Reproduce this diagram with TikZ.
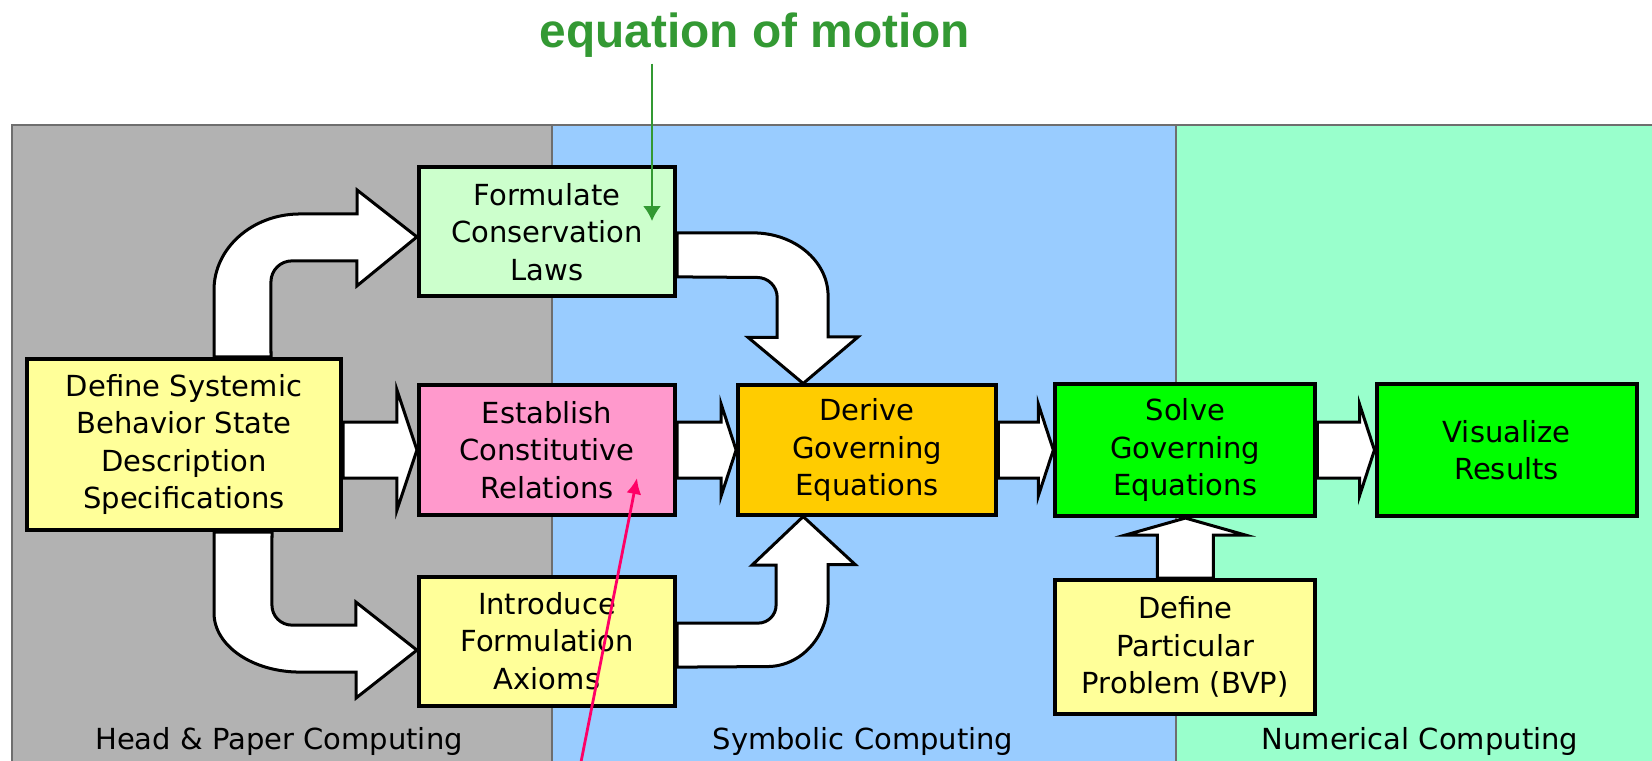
\documentclass[tikz,border=0pt]{standalone}
\usepackage{fontspec}
\setmainfont{DejaVu Sans}
\newfontfamily\eomfont{Liberation Sans}
\usepackage{tikz}
\usetikzlibrary{arrows.meta,positioning,calc,backgrounds}
\definecolor{fwlane}{RGB}{110,110,110}
\definecolor{fwhead}{RGB}{178,178,178}
\definecolor{fwsym}{RGB}{153,204,255}
\definecolor{fwnum}{RGB}{153,255,204}
\definecolor{fwlaw}{RGB}{204,255,204}
\definecolor{fwrel}{RGB}{255,153,204}
\definecolor{fwspec}{RGB}{255,255,153}
\definecolor{fwgov}{RGB}{255,204,0}
\definecolor{fwnumbox}{RGB}{0,255,0}
\definecolor{fweom}{RGB}{51,153,51}
\definecolor{fwpink}{RGB}{255,0,102}
\tikzset{
  fwbox/.style={
    draw=black, line width=0.4mm, align=center, inner sep=0pt,
    minimum width=25.6mm, minimum height=12.9mm,
    font=\fontsize{8.25}{10.7}\selectfont
  },
  law/.style={fwbox, fill=fwlaw},
  rel/.style={fwbox, fill=fwrel},
  spec/.style={fwbox, fill=fwspec},
  gov/.style={fwbox, fill=fwgov, minimum width=25.8mm},
  num/.style={fwbox, fill=fwnumbox, minimum width=26mm, minimum height=13.2mm},
  fat/.style={draw=black, fill=white, line width=0.3mm},
  lane/.style={draw=fwlane, line width=0.2mm},
  lanelbl/.style={font=\fontsize{8.25}{10.7}\selectfont, anchor=base, inner sep=0pt},
  eomarr/.style={-{Latex[length=1.5mm,width=1.8mm]}, draw=fweom, line width=0.2mm},
  relarr/.style={-{Latex[length=1.6mm,width=1.5mm]}, draw=fwpink, line width=0.28mm}
}
\begin{document}
\begin{tikzpicture}[x=0.01cm, y=-0.01cm]
  \useasboundingbox (0,0) rectangle (1652,760);
  \node[rel] (est) at (547,450) {Establish\\Constitutive\\Relations};
  \node[law, above=8.5mm of est] (form) {Formulate\\Conservation\\Laws};
  \node[spec, below=5.8mm of est] (intro) {Introduce\\Formulation\\Axioms};
  \node[spec, minimum width=31.4mm, minimum height=17.1mm] (def) at (184,444.5)
    {Define Systemic\\Behavior State\\Description\\Specifications};
  \node[gov, right=5.9mm of est] (der) {Derive\\Governing\\Equations};
  \node[num, right=5.5mm of der] (sol) {Solve\\Governing\\Equations};
  \node[num, right=5.7mm of sol] (vis) {Visualize\\Results};
  \node[spec, minimum width=26mm, minimum height=13.4mm, below=6mm of sol] (bvp)
    {Define\\Particular\\Problem (BVP)};

  \node[lanelbl] (lhp) at (279,749) {Head \& Paper Computing};
  \node[lanelbl] (lsym) at (863,749) {Symbolic Computing};
  \node[lanelbl] (lnum) at (1420,749) {Numerical Computing};

  \node[font=\eomfont\bfseries\fontsize{13.6}{16}\selectfont, text=fweom, anchor=base,
    inner sep=0.6mm] (eom) at (755,47) {equation of motion};
  \coordinate (eomtip) at (652,221);
  \draw[eomarr] (eomtip |- eom.south) -- (eomtip);
  \coordinate (relfoot) at (581,762);
  \coordinate (reltip) at (637,478);
  \draw[relarr] (relfoot) -- (reltip);

  \begin{scope}[on background layer]
    \fill[white] (0,0) rectangle (1652,760);
    \draw[lane, fill=fwhead] (12,125) rectangle (552,775);
    \draw[lane, fill=fwsym] (552,125) rectangle (1176,775);
    \draw[lane, fill=fwnum] (1176,125) rectangle (1665,775);
    % bent arrows
    \draw[fat] ($(def.north)+(30,0)$) -- ++(0,-67)
      arc[start angle=180, end angle=270, x radius=86, y radius=76]
      -- ++(57,0) -- ++(0,-24) -- ($(form.west)+(0,5)$) -- ++(-60,49)
      -- ++(0,-25) -- ++(-65,0) arc[start angle=270, end angle=180, radius=21]
      -- ($(def.north)+(87,0)$) -- cycle;
    \draw[fat] ($(form.east)+(0,1)$) -- ++(76,0)
      arc[start angle=270, end angle=360, x radius=75, y radius=63]
      -- ++(0,41) -- ++(30,0) -- ($(der.north)+(-64,0)$) -- ++(-55,-46)
      -- ++(29,0) -- ++(0,-40) arc[start angle=0, end angle=-90, radius=20]
      -- ($(form.east)+(0,45)$) -- cycle;
    \draw[fat] ($(def.south)+(30,0)$) -- ++(0,81)
      arc[start angle=180, end angle=90, x radius=86, y radius=59]
      -- ++(56,0) -- ++(0,26) -- ($(intro.west)+(0,9)$) -- ++(-61,-48)
      -- ++(0,23) -- ++(-64,0) arc[start angle=90, end angle=180, radius=20]
      -- ($(def.south)+(88,0)$) -- cycle;
    \draw[fat] ($(intro.east)+(0,-18)$) -- ++(81,0)
      arc[start angle=90, end angle=0, radius=18]
      -- ++(0,-40) -- ++(-24,0) -- ($(der.south)+(-64,0)$) -- ++(52,48)
      -- ++(-27,0) -- ++(0,35) arc[start angle=0, end angle=90, x radius=61, y radius=67]
      -- ($(intro.east)+(0,26)$) -- cycle;
    % straight arrows
    \draw[fat] ($(def.east |- est.west)+(0,-28)$) -- ($(est.west)+(-20,-28)$) -- ++(0,-32)
      -- (est.west) -- ($(est.west)+(-20,60)$) -- ++(0,-32)
      -- ($(def.east |- est.west)+(0,28)$) -- cycle;
    \foreach \p/\q in {est/der,der/sol,sol/vis}
      \draw[fat] ($(\p.east)+(0,-28)$) -- ($(\q.west)+(-15,-28)$) -- ++(0,-18) -- (\q.west)
        -- ($(\q.west)+(-15,46)$) -- ++(0,-18) -- ($(\p.east)+(0,28)$) -- cycle;
    \draw[fat] ($(bvp.north)+(-28,0)$) -- ($(sol.south)+(-28,17)$) -- ++(-32,0) -- (sol.south)
      -- ($(sol.south)+(60,17)$) -- ++(-32,0) -- ($(bvp.north)+(28,0)$) -- cycle;
  \end{scope}
\end{tikzpicture}
\end{document}
